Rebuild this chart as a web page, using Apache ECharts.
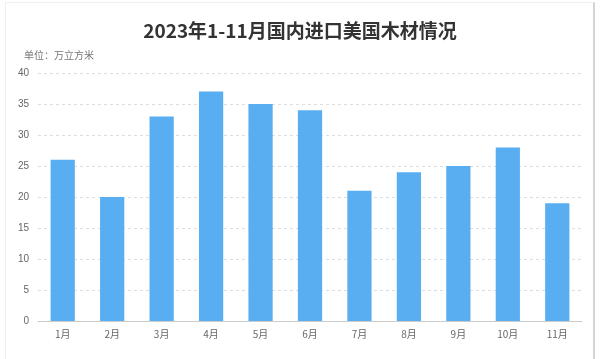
<!DOCTYPE html>
<html>
<head>
<meta charset="utf-8">
<script src="https://cdn.jsdelivr.net/npm/echarts@6/dist/echarts.min.js"></script>
<style>
html,body{margin:0;padding:0;background:#fff;}
#wrap{position:absolute;left:0;top:0;width:600px;height:359px;}
#frame{position:absolute;left:5px;top:2px;width:590px;height:360px;border-left:1px solid #f0f0f0;border-top:1px solid #f0f0f0;border-right:2px solid #d4d4d4;box-sizing:border-box;pointer-events:none;}
#chart{position:absolute;left:0;top:0;width:600px;height:359px;}
</style>
</head>
<body>
<div id="wrap"><div id="chart"></div><div id="frame"></div></div>
<script>
var titleText = '2023年1-11月国内进口美国木材情况';
var unitText = '单位：万立方米';
var categories = ['1月','2月','3月','4月','5月','6月','7月','8月','9月','10月','11月'];
var values = [26, 20, 33, 37, 35, 34, 21, 24, 25, 28, 19];
var yTicks = {min: 0, max: 40, interval: 5};

var chart = echarts.init(document.getElementById('chart'));
chart.setOption({
  animation: false,
  backgroundColor: 'transparent',
  title: [{
    text: titleText,
    left: 'center',
    top: 16,
    textStyle: {fontFamily: 'Noto Sans CJK SC', fontSize: 19, fontWeight: 'bold', color: '#333'}
  }, {
    text: unitText,
    left: 19,
    top: 45,
    textStyle: {fontFamily: 'Noto Sans CJK SC', fontSize: 10, fontWeight: 'normal', color: '#777'}
  }],
  grid: {left: 38, right: 18, top: 73, bottom: 38},
  xAxis: {
    type: 'category',
    data: categories,
    axisLine: {lineStyle: {color: '#ccc'}},
    axisTick: {alignWithLabel: true, length: 3, lineStyle: {color: '#ddd'}},
    axisLabel: {color: '#666', fontSize: 10, fontFamily: 'Noto Sans CJK SC', margin: 8}
  },
  yAxis: {
    type: 'value',
    min: yTicks.min, max: yTicks.max, interval: yTicks.interval,
    axisLine: {show: false},
    axisTick: {show: false},
    axisLabel: {color: '#666', fontSize: 10, margin: 9},
    splitLine: {lineStyle: {color: '#ddd', type: [3, 3]}}
  },
  series: [{
    type: 'bar',
    data: values,
    barWidth: '49%',
    itemStyle: {color: '#59aef2'}
  }]
});
</script>
</body>
</html>
